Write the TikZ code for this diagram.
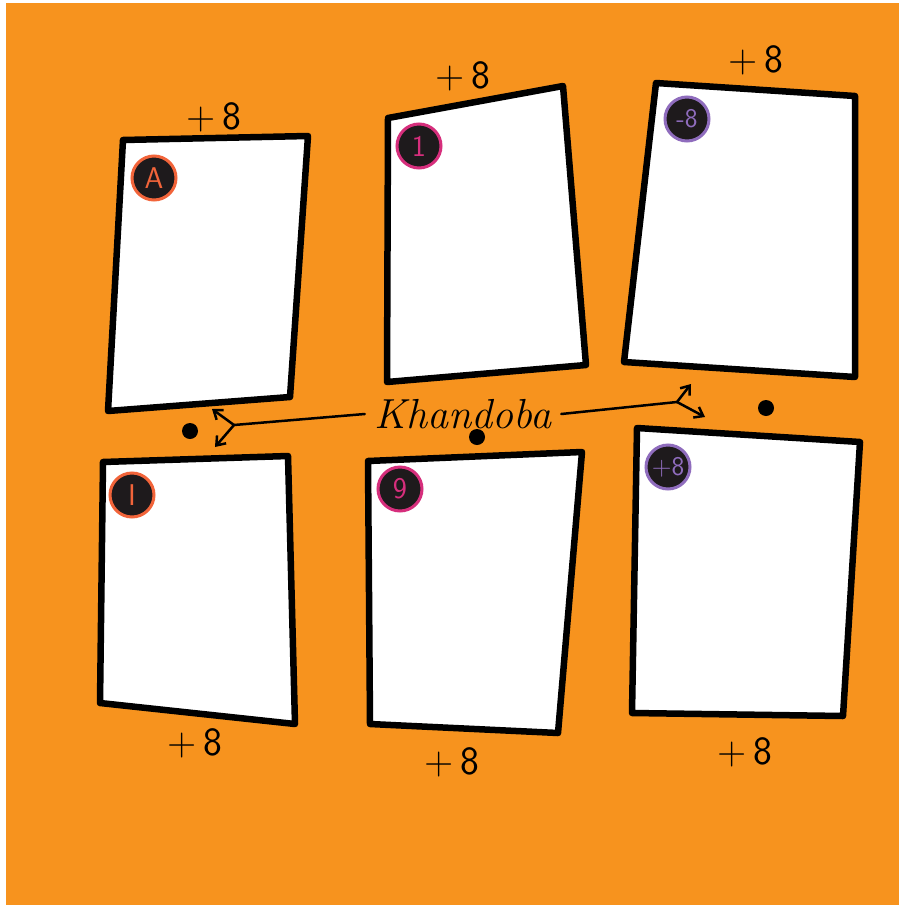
\documentclass[tikz,border=0pt]{standalone}
\usepackage{fontspec}
\usetikzlibrary{arrows.meta}
\definecolor{bgorange}{HTML}{F7931E}
\definecolor{ringorange}{HTML}{F2643A}
\definecolor{ringmagenta}{HTML}{D62E7C}
\definecolor{ringpurple}{HTML}{8F6CBD}
\definecolor{badgefill}{HTML}{1E1A1C}
\tikzset{
  card/.style={draw=black, fill=white, line width=6.5pt, line join=round},
  badge/.style={circle, fill=badgefill, draw=#1, line width=3pt, minimum size=44pt, inner sep=0pt, text=#1, font=\sffamily\fontsize{30}{30}\selectfont},
  plus/.style={font=\sffamily\fontsize{40}{40}\selectfont, text=black, inner sep=0pt},
  dotmark/.style={circle, fill=black, minimum size=16pt, inner sep=0pt},
  conn/.style={draw=black, line width=2.5pt, line cap=round, line join=round},
  arr/.style={conn, -{Straight Barb[length=8pt,width=12pt,line width=2.5pt]}}
}
\begin{document}
\begin{tikzpicture}[x=1pt,y=-1pt]
\useasboundingbox (0,0) rectangle (899,905);
\fill[white] (0,0) rectangle (899,905);
\fill[bgorange] (6,3) rectangle (899,905);
% cards
\draw[card] (123,140) -- (308,136) -- (290,397) -- (108,411) -- cycle;
\draw[card] (388,118) -- (563,86) -- (586,365) -- (387,382) -- cycle;
\draw[card] (656,83) -- (855,96) -- (855,377) -- (624,362) -- cycle;
\draw[card] (103,462) -- (288,456) -- (295,724) -- (100,703) -- cycle;
\draw[card] (368,461) -- (582,452) -- (558,733) -- (370,724) -- cycle;
\draw[card] (637,428) -- (860,442) -- (843,716) -- (632,713) -- cycle;
% badges
\node[badge=ringorange] (bA) at (154,178) {A};
\node[badge=ringmagenta] (b1) at (419,146) {1};
\node[badge=ringpurple, font=\sffamily\fontsize{27}{27}\selectfont] (bm8) at (687,119) {-8};
\node[badge=ringorange] (bI) at (132,495) {I};
\node[badge=ringmagenta] (b9) at (400,489) {9};
\node[badge=ringpurple, font=\sffamily\fontsize{27}{27}\selectfont] (bp8) at (668,467) {+8};
% +8 labels
\node[plus] (p1) at (214,117) {+\,8};
\node[plus] (p2) at (463,76) {+\,8};
\node[plus] (p3) at (756,60) {+\,8};
\node[plus] (p4) at (195,743) {+\,8};
\node[plus] (p5) at (452,762) {+\,8};
\node[plus] (p6) at (745,752) {+\,8};
% dots
\node[dotmark] (d1) at (190,431) {};
\node[dotmark] (d2) at (477,437) {};
\node[dotmark] (d3) at (766,408) {};
% Khandoba
\node[font=\itshape\fontsize{42}{42}\selectfont, inner sep=0pt, outer sep=10pt] (K) at (463,414) {Khandoba};
\coordinate (jl) at (234,425);
\coordinate (tl1) at (212,409);
\coordinate (tl2) at (215,447);
\coordinate (jr) at (677,402);
\coordinate (tr1) at (691,384);
\coordinate (tr2) at (705,417);
\draw[conn] (K.west) -- (jl);
\draw[arr] (jl) -- (tl1);
\draw[arr] (jl) -- (tl2);
\draw[conn] (K.east) -- (jr);
\draw[arr] (jr) -- (tr1);
\draw[arr] (jr) -- (tr2);
\end{tikzpicture}
\end{document}
